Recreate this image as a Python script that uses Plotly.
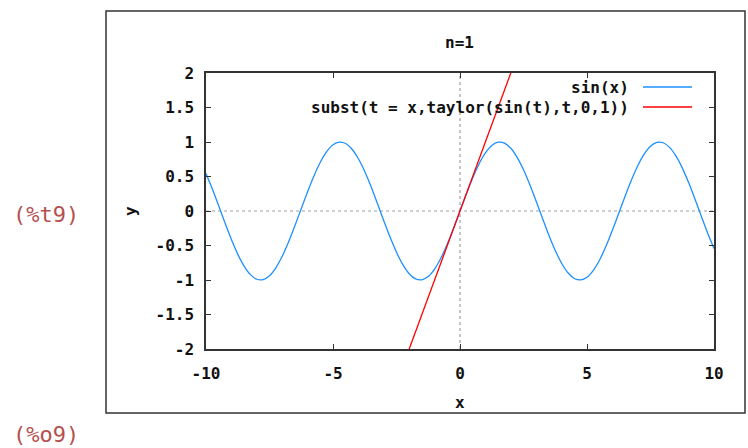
import plotly.graph_objects as go

# sin(x) sample points
sin_x = [-10, -9.75, -9.5, -9.25, -9, -8.75, -8.5, -8.25, -8, -7.75, -7.5, -7.25, -7, -6.75, -6.5, -6.25,
         -6, -5.75, -5.5, -5.25, -5, -4.75, -4.5, -4.25, -4, -3.75, -3.5, -3.25, -3, -2.75, -2.5, -2.25,
         -2, -1.75, -1.5, -1.25, -1, -0.75, -0.5, -0.25, 0,
         0.25, 0.5, 0.75, 1, 1.25, 1.5, 1.75, 2, 2.25, 2.5, 2.75, 3, 3.25, 3.5, 3.75, 4,
         4.25, 4.5, 4.75, 5, 5.25, 5.5, 5.75, 6, 6.25, 6.5, 6.75, 7, 7.25, 7.5, 7.75, 8,
         8.25, 8.5, 8.75, 9, 9.25, 9.5, 9.75, 10]
sin_y = [0.544, 0.319, 0.075, -0.174, -0.412, -0.625, -0.798, -0.922, -0.989, -0.995, -0.938, -0.823, -0.657, -0.450, -0.215, 0.033,
         0.279, 0.508, 0.706, 0.859, 0.959, 0.999, 0.978, 0.895, 0.757, 0.572, 0.351, 0.108, -0.141, -0.382, -0.598, -0.778,
         -0.909, -0.984, -0.997, -0.949, -0.841, -0.682, -0.479, -0.247, 0.0,
         0.247, 0.479, 0.682, 0.841, 0.949, 0.997, 0.984, 0.909, 0.778, 0.598, 0.382, 0.141, -0.108, -0.351, -0.572, -0.757,
         -0.895, -0.978, -0.999, -0.959, -0.859, -0.706, -0.508, -0.279, -0.033, 0.215, 0.450, 0.657, 0.823, 0.938, 0.995, 0.989,
         0.922, 0.798, 0.625, 0.412, 0.174, -0.075, -0.319, -0.544]

# Taylor polynomial of degree 1 (straight line y = x)
tay_x = [-10, 10]
tay_y = [-10, 10]

x_ticks = [-10, -5, 0, 5, 10]
y_ticks = [-2, -1.5, -1, -0.5, 0, 0.5, 1, 1.5, 2]
y_labels = ["-2", "-1.5", "-1", "-0.5", "0", "0.5", "1", "1.5", "2"]

title_text = "n=1"
legend_names = ["sin(x)", "subst(t = x,taylor(sin(t),t,0,1))"]
colors = ["#1e90ff", "#ff0000"]

W, H = 748, 448
L, R, T, B = 206, 714, 73, 349

def px(x):
    return (x - L) / (R - L)

def py(y):
    return (B - y) / (B - T)

MONO = "DejaVu Sans Mono"
BOLD = dict(family=MONO, size=16, color="#111111", weight="bold")

fig = go.Figure()
fig.add_trace(go.Scatter(x=sin_x, y=sin_y, mode="lines", name=legend_names[0],
                         line=dict(color=colors[0], width=1.3, shape="spline"), showlegend=False))
fig.add_trace(go.Scatter(x=tay_x, y=tay_y, mode="lines", name=legend_names[1],
                         line=dict(color=colors[1], width=1.3), showlegend=False))

shapes = []
shapes.append(dict(type="line", xref="x", yref="paper", x0=0, x1=0, y0=0, y1=1,
                   line=dict(color="#a0a0a0", width=1.2, dash="dot"), layer="below"))
shapes.append(dict(type="line", xref="paper", yref="y", x0=0, x1=1, y0=0, y1=0,
                   line=dict(color="#a0a0a0", width=1.2, dash="dot"), layer="below"))
shapes.append(dict(type="rect", xref="paper", yref="paper",
                   x0=px(106), x1=px(745), y0=py(413), y1=py(11),
                   line=dict(color="#333333", width=1.5)))
for i, yy in enumerate([87, 107]):
    shapes.append(dict(type="line", xref="paper", yref="paper",
                       x0=px(643), x1=px(692), y0=py(yy), y1=py(yy),
                       line=dict(color=colors[i], width=1.3)))

annotations = []
for i, yy in enumerate([87, 107]):
    annotations.append(dict(text=legend_names[i], xref="paper", yref="paper", x=px(631), y=py(yy),
                            xanchor="right", yanchor="middle", showarrow=False, font=BOLD))
annotations.append(dict(text=title_text, xref="paper", yref="paper", x=px(459), y=py(43),
                        xanchor="center", yanchor="middle", showarrow=False, font=BOLD))
annotations.append(dict(text="x", xref="paper", yref="paper", x=px(460), y=py(402),
                        xanchor="center", yanchor="middle", showarrow=False, font=BOLD))
annotations.append(dict(text="y", xref="paper", yref="paper", x=px(130), y=py(211),
                        xanchor="center", yanchor="middle", showarrow=False, font=BOLD, textangle=-90))
annotations.append(dict(text="(%t9)", xref="paper", yref="paper", x=px(46), y=py(214),
                        xanchor="center", yanchor="middle", showarrow=False,
                        font=dict(family=MONO, size=22, color="#b5504f")))
annotations.append(dict(text="(%o9)", xref="paper", yref="paper", x=px(46), y=py(434),
                        xanchor="center", yanchor="middle", showarrow=False,
                        font=dict(family=MONO, size=22, color="#b5504f")))

axis_common = dict(showline=True, linecolor="#333333", linewidth=1.5, mirror="ticks",
                   ticks="inside", ticklen=5, tickcolor="#333333", tickwidth=1,
                   showgrid=False, zeroline=False, tickfont=BOLD)

fig.update_layout(
    width=W, height=H,
    margin=dict(l=L, r=W - R, t=T, b=H - B),
    paper_bgcolor="white", plot_bgcolor="white",
    xaxis=dict(range=[-10, 10], tickvals=x_ticks, ticktext=[str(v) for v in x_ticks],
               ticklabelstandoff=9, **axis_common),
    yaxis=dict(range=[-2, 2], tickvals=y_ticks, ticktext=y_labels,
               ticklabelstandoff=7, **axis_common),
    shapes=shapes, annotations=annotations, showlegend=False,
)

fig.write_html("out.html")
